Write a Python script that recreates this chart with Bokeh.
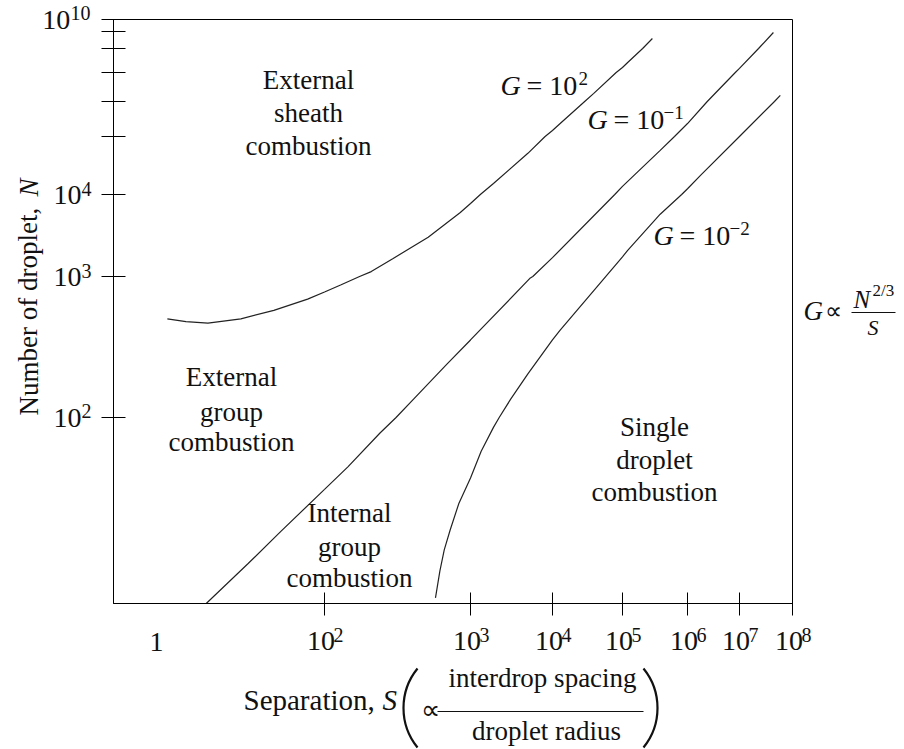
import numpy as np
from bokeh.plotting import figure
from bokeh.models import FixedTicker, ColumnDataSource, Range1d, GridBox, Column
from bokeh.core.properties import value
from bokeh.embed import file_html
from bokeh.resources import INLINE

# ---------------- data ----------------
# schematic (non-uniform) decade layout of the two axes: log10 value -> fraction of frame
S_DECADES = [-0.5, 0, 2, 3, 4, 5, 6, 7, 8]
S_POS = [0.0, 0.0619, 0.3108, 0.5258, 0.6465, 0.7496, 0.8454, 0.9219, 1.0]
N_DECADES = [0.68, 2, 3, 4, 5, 6, 7, 8, 9, 10]
N_POS = [0.0, 0.3185, 0.5599, 0.7003, 0.7997, 0.8596, 0.9092, 0.9503, 0.9795, 1.0]

x_tick_decades = [2, 3, 4, 5, 6, 7, 8]
x_tick_exps = ["2", "3", "4", "5", "6", "7", "8"]
y_tick_decades = [2, 3, 4, 5, 6, 7, 8, 9, 10]
y_tick_exps = ["2", "3", "4", "", "", "", "", "", "10"]

# boundary curves (log10 S, log10 N)
g_1e2_logS = [0.14, 0.36, 0.62, 1.01, 1.40, 1.80, 2.00, 2.11, 2.24, 2.32, 2.47, 2.71, 2.93, 3.00,
              3.12, 3.28, 3.70, 3.91, 4.00, 4.11, 4.46, 4.59, 4.91, 5.00, 5.08, 5.31, 5.46]
g_1e2_logN = [2.70, 2.68, 2.67, 2.70, 2.76, 2.84, 2.89, 2.94, 3.00, 3.06, 3.22, 3.48, 3.78, 3.89,
              4.00, 4.19, 4.71, 5.00, 5.17, 5.37, 6.00, 6.28, 7.00, 7.21, 7.42, 8.00, 8.59]

g_1em1_logS = [0.60, 1.09, 1.48, 2.00, 2.16, 2.38, 2.49, 2.61, 2.84, 3.00, 3.73, 3.76, 4.00, 4.89,
               5.00, 5.58, 5.80, 6.00, 6.38, 6.92, 7.00, 7.36, 7.64]
g_1em1_logN = [0.68, 0.96, 1.19, 1.49, 1.65, 1.89, 2.00, 2.13, 2.38, 2.55, 2.99, 3.00, 3.23, 4.00,
               4.14, 4.76, 5.00, 5.37, 6.00, 7.00, 7.17, 8.00, 8.94]

g_1em2_logS = [2.76, 2.79, 2.82, 2.86, 2.92, 3.00, 3.13, 3.28, 3.35, 3.49, 3.70, 4.00, 4.11, 4.59,
               4.76, 5.00, 5.08, 5.58, 5.91, 6.00, 6.25, 7.00, 7.66, 7.77]
g_1em2_logN = [0.72, 0.91, 1.06, 1.20, 1.39, 1.57, 1.76, 1.93, 2.00, 2.13, 2.31, 2.55, 2.62, 2.90,
               3.00, 3.24, 3.32, 3.76, 4.00, 4.10, 4.33, 5.00, 6.00, 6.21]


def sx(v):
    return np.interp(v, S_DECADES, S_POS)


def sy(v):
    return np.interp(v, N_DECADES, N_POS)


FONT = "Liberation Serif"
INK = "#111111"
W, H = 896, 749
FL, FR, FT, FB = 113, 792, 19, 603   # frame edges on the canvas

# ---------------- main chart ----------------
p = figure(width=W, height=H, x_range=(0, 1), y_range=(0, 1),
           output_backend="svg", toolbar_location=None,
           min_border_left=FL, min_border_right=W - FR,
           min_border_top=FT, min_border_bottom=H - FB)
p.background_fill_color = "white"
p.border_fill_color = "white"
p.xgrid.visible = False
p.ygrid.visible = False
p.outline_line_color = "black"
p.outline_line_alpha = 1.0
p.outline_line_width = 1

xt = [float(round(v, 4)) for v in sx(x_tick_decades)]
yt = [float(round(v, 4)) for v in sy(y_tick_decades)]
p.xaxis.ticker = FixedTicker(ticks=xt)
p.yaxis.ticker = FixedTicker(ticks=yt)
p.xaxis.major_label_overrides = {t: "10\u00a0" for t in xt}
p.yaxis.major_label_overrides = {t: ("10" if e in ("2", "3", "4") else ("10\u2009\u2009" if e else ""))
                                 for t, e in zip(yt, y_tick_exps)}
for ax in (p.xaxis, p.yaxis):
    ax.minor_tick_line_color = None
    ax.axis_line_color = "black"
    ax.major_tick_line_color = "black"
    ax.major_label_text_font = FONT
    ax.major_label_text_font_size = "28px"
    ax.major_label_text_color = INK
p.xaxis.major_tick_in = 11
p.xaxis.major_tick_out = 12
p.yaxis.major_tick_in = 12
p.yaxis.major_tick_out = 12
p.xaxis.major_label_standoff = 9
p.yaxis.major_label_standoff = 20

for xs, ys in ((g_1e2_logS, g_1e2_logN), (g_1em1_logS, g_1em1_logN), (g_1em2_logS, g_1em2_logN)):
    p.line(sx(xs), sy(ys), line_color="#222222", line_width=1.2)

# ---------------- text overlay (canvas pixel coordinates, y downward) ----------------
ov = figure(width=W, height=H, x_range=Range1d(0, W), y_range=Range1d(H, 0),
            output_backend="svg", toolbar_location=None,
            x_axis_type=None, y_axis_type=None, min_border=0,
            outline_line_color=None, background_fill_color=None, border_fill_color=None)

texts = []  # (text, x, y-centre, size, style, align, angle)


def t(s, x, y, size=27, style="normal", align="left", angle=0.0):
    texts.append((s, x, y, f"{size}px", style, align, angle))


# tick exponents, tied to tick positions
for d, e in zip(x_tick_decades, x_tick_exps):
    px = FL + (FR - FL) * float(sx(d))
    t(e, px + 9, 634, 20)
for d, e in zip(y_tick_decades, y_tick_exps):
    if not e:
        continue
    py = FB - (FB - FT) * float(sy(d))
    if e == "10":
        t(e, 70, py - 7, 20)
    else:
        t(e, 81, py - 6, 20)
t("1", 156, 641, 28, align="center")

# region labels
for s, x, y in [("External", 308, 79), ("sheath", 308, 112), ("combustion", 308, 145),
                ("External", 231, 376), ("group", 231, 411), ("combustion", 231, 441),
                ("Internal", 349, 512), ("group", 349, 546), ("combustion", 349, 577),
                ("Single", 654, 426), ("droplet", 654, 459), ("combustion", 654, 491)]:
    t(s, x, y, 27, align="center")

# G labels on the curves
for x0, yc, ex, dx in [(500, 85, "2", 78), (587, 119, "\u22121", 76), (653, 235, "\u22122", 76)]:
    t("G", x0, yc, 28, "italic")
    t("= 10", x0 + 26, yc, 28)
    t(ex, x0 + dx, yc - 7, 19)

# y title (reads upward)
t("Number of droplet, ", 28, 415, 27, angle=np.pi / 2)
t("N", 28, 196, 27, "italic", angle=np.pi / 2)

# x title
t("Separation, ", 243, 699, 29)
t("S", 382, 699, 29, "italic")
t("\u221d", 420, 709, 27)
t("interdrop spacing", 542, 677, 27, align="center")
t("droplet radius", 546, 730, 27, align="center")

# G relation on the right
t("G", 803, 310, 27, "italic")
t("\u221d", 824, 310, 24)
t("N", 853, 299, 25, "italic")
t("2/3", 872, 290, 17)
t("S", 867, 327, 22, "italic")

cols = list(zip(*texts))
src = ColumnDataSource(dict(text=list(cols[0]), x=list(cols[1]), y=list(cols[2]), size=list(cols[3]),
                            style=list(cols[4]), align=list(cols[5]), angle=list(cols[6])))
ov.text("x", "y", text="text", source=src, text_font=value(FONT), text_font_size="size",
        text_font_style="style", text_align="align", text_baseline="middle", angle="angle",
        text_color=INK)

# fraction bars
ov.segment(x0=[437, 851], y0=[711, 312], x1=[643, 895], y1=[711, 312], line_color=INK, line_width=1)

# tall parentheses around the fraction
R, TH = 62.7, float(np.arcsin(39.5 / 62.7))
ov.arc(x=[403 + R, 657 - R], y=[707.5, 707.5], radius=R,
       start_angle=[np.pi - TH, -TH], end_angle=[np.pi + TH, TH],
       line_color=INK, line_width=2.2)

layout = GridBox(children=[(Column(children=[p]), 0, 0), (Column(children=[ov]), 0, 0)])
open("out.html", "w").write(file_html(layout, INLINE))
